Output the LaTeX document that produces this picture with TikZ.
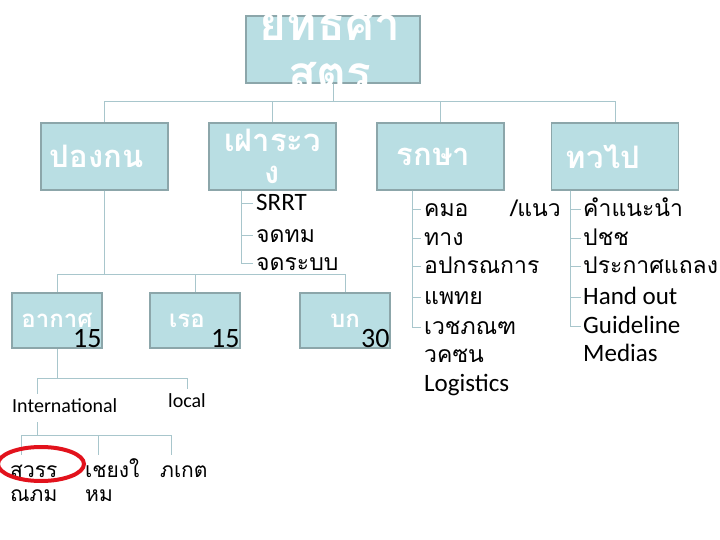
\documentclass[tikz,border=0pt]{standalone}
\usepackage{fontspec}
\setmainfont{Carlito}
\newfontfamily\thaifont[Script=Thai]{Loma}
\usetikzlibrary{positioning}
\definecolor{boxfill}{RGB}{185,222,227}
\definecolor{boxedge}{RGB}{140,166,170}
\definecolor{treeline}{RGB}{168,198,204}
\definecolor{ringred}{RGB}{226,18,28}

\begin{document}
\begin{tikzpicture}[x=1pt, y=-1pt,
    box/.style={draw=boxedge, line width=1.5pt, fill=boxfill, text=white,
                inner sep=0pt, align=center, minimum width=127pt, minimum height=67pt,
                font=\thaifont\bfseries\fontsize{31}{32}\selectfont},
    sbox/.style={box, minimum width=90pt, minimum height=55pt,
                 font=\thaifont\bfseries\fontsize{24}{26}\selectfont},
    leaf/.style={anchor=west, inner sep=0pt, text height=14pt, text depth=0pt,
                 font=\thaifont\fontsize{23}{25}\selectfont},
    eleaf/.style={leaf, font=\fontsize{25}{27}\selectfont},
    num/.style={anchor=south east, inner sep=1pt, font=\fontsize{28}{30}\selectfont},
    conn/.style={draw=treeline, line width=1pt}
  ]
  \useasboundingbox (0,0) rectangle (720,540);

  % boxes
  \node[box, minimum width=174pt] (strat) at (333,49.5) {};
  \node[text=white, align=center, inner sep=0pt,
        font=\thaifont\bfseries\fontsize{46}{49}\selectfont] (strattxt) at (330,51) {ยทธศา\\สตร};
  \node[box] (pk) at (104.5,156.5) {\raisebox{-3pt}{ปองกน}\hspace{16pt}};
  \node[box] (fw) at (272.5,156.5) {เฝาระว\\ง};
  \node[box] (rk) at (440.5,156.5) {\raisebox{-3pt}{รกษา}\hspace{14pt}};
  \node[box] (tp) at (615,156.5) {\raisebox{-3pt}{ทวไป}\hspace{24pt}};

  \node[sbox] (ak) at (57,320.5) {อากาศ};
  \node[sbox] (re) at (195,320.5) {เรอ\hspace{16pt}};
  \node[sbox] (bk) at (345,320.5) {บก};
  \node[num] (akn) at (ak.south east) {15};
  \node[num] (ren) at (re.south east) {15};
  \node[num] (bkn) at (bk.south east) {30};

  % lists
  \node[eleaf] (fw1) at (256,204) {SRRT};
  \node[leaf] (fw2) at (256,235) {จดทม};
  \node[leaf] (fw3) at (256,263) {จดระบบ};

  \node[leaf] (rk1) at (424,210) {คมอ\hspace{42pt}/แนว};
  \node[leaf] (rk2) at (424,238) {ทาง};
  \node[leaf] (rk3) at (424,266) {อปกรณการ};
  \node[leaf] (rk4) at (424,297) {แพทย};
  \node[leaf] (rk5) at (424,327) {เวชภณฑ};
  \node[leaf] (rk6) at (424,355) {วคซน};
  \node[eleaf] (rk7) at (424,384) {Logistics};

  \node[leaf] (tp1) at (583,210) {คำแนะนำ};
  \node[leaf] (tp2) at (583,238) {ปชช};
  \node[leaf] (tp3) at (583,266) {ประกาศแถลง};
  \node[eleaf] (tp4) at (583,297) {Hand out};
  \node[eleaf] (tp5) at (583,326) {Guideline};
  \node[eleaf] (tp6) at (583,354) {Medias};

  \node[eleaf, font=\fontsize{20}{22}\selectfont] (intl) at (12,405) {International};
  \node[eleaf, font=\fontsize{20}{22}\selectfont] (lcl) at (168,400) {local};
  \node[leaf, font=\thaifont\fontsize{21}{23}\selectfont] (sw1) at (10,470) {สวรร};
  \node[leaf, font=\thaifont\fontsize{21}{23}\selectfont] (sw2) at (10,494) {ณภม};
  \node[leaf, font=\thaifont\fontsize{21}{23}\selectfont] (cm1) at (85,470) {เชยงใ};
  \node[leaf, font=\thaifont\fontsize{21}{23}\selectfont] (cm2) at (85,494) {หม};
  \node[leaf, font=\thaifont\fontsize{21}{23}\selectfont] (pkt) at (160,470) {ภเกต};

  % connectors
  \foreach \n in {pk,fw,rk,tp}
    \draw[conn] (strat.south) -- ++(0,18) -| (\n.north);
  \foreach \n in {ak,re,bk}
    \draw[conn] (pk.south) -- ++(0,84) -| (\n.north);
  \foreach \i in {1,2,3}
    \draw[conn] ([xshift=-31.5pt]fw.south) |- ([xshift=-3pt]fw\i.west);
  \foreach \i in {1,...,5}
    \draw[conn] ([xshift=-28.5pt]rk.south) |- ([xshift=-3pt]rk\i.west);
  \foreach \i in {1,...,5}
    \draw[conn] ([xshift=-45pt]tp.south) |- ([xshift=-2pt]tp\i.west);

  \draw[conn, shorten >=4pt] (ak.south) -- ++(0,30) -| ([xshift=25pt]intl.north west);
  \draw[conn, shorten >=4pt] (ak.south) -- ++(0,30) -| (lcl.north);
  \foreach \n/\d in {sw1/11, cm1/13, pkt/11}
    \draw[conn, shorten >=8pt] ([xshift=25pt, yshift=-10pt]intl.south west) -- ++(0,13)
      -| ([xshift=\d pt]\n.north west);

  % mark
  \draw[ringred, line width=4pt] (41,464) ellipse [x radius=43pt, y radius=17pt];
\end{tikzpicture}
\end{document}
